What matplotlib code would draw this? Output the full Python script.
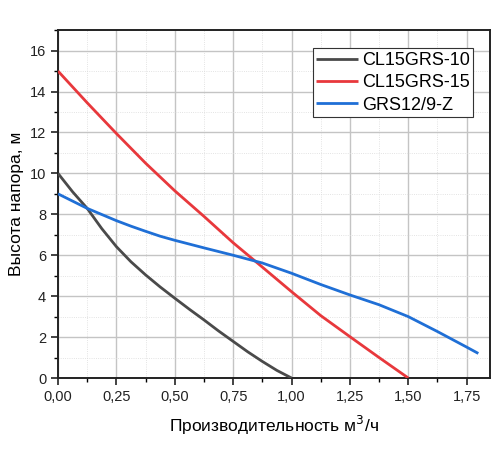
import matplotlib
matplotlib.use("Agg")
import matplotlib.pyplot as plt
from matplotlib.ticker import MultipleLocator, FuncFormatter

plt.rcParams['font.family'] = ['Liberation Sans', 'DejaVu Sans']

x_cl10 = [0.0, 0.0625, 0.125, 0.1875, 0.25, 0.3125, 0.375, 0.4375, 0.5, 0.5625, 0.625, 0.6875, 0.75, 0.8125, 0.875, 0.9375, 1.0]
y_cl10 = [10.0, 9.1, 8.29, 7.3, 6.42, 5.68, 5.04, 4.45, 3.9, 3.36, 2.84, 2.3, 1.79, 1.28, 0.81, 0.37, 0.0]

x_cl15 = [0.0, 0.125, 0.25, 0.375, 0.5, 0.625, 0.75, 0.875, 1.0, 1.125, 1.25, 1.375, 1.5]
y_cl15 = [15.0, 13.45, 11.95, 10.5, 9.15, 7.9, 6.61, 5.42, 4.22, 3.05, 2.02, 1.0, 0.0]

x_grs = [0.0, 0.125, 0.25, 0.3125, 0.375, 0.4375, 0.5, 0.625, 0.75, 0.875, 1.0, 1.125, 1.25, 1.375, 1.5, 1.625, 1.75, 1.8]
y_grs = [9.0, 8.29, 7.69, 7.42, 7.17, 6.93, 6.73, 6.36, 6.0, 5.62, 5.12, 4.57, 4.06, 3.58, 3.0, 2.27, 1.51, 1.2]

series_names = ['CL15GRS-10', 'CL15GRS-15', 'GRS12/9-Z']
series_colors = ['#4a4a4a', '#e8383c', '#1f6fd6']

fig = plt.figure(figsize=(5, 4.5), dpi=100)
ax = fig.add_axes([0.116, 0.16, 0.864, 0.773])

for xs, ys, name, col in zip([x_cl10, x_cl15, x_grs], [y_cl10, y_cl15, y_grs], series_names, series_colors):
    ax.plot(xs, ys, color=col, lw=2.0, label=name, zorder=3, solid_capstyle='butt', solid_joinstyle='round')

ax.set_xlim(0, 1.85)
ax.set_ylim(0, 17)
ax.xaxis.set_major_locator(MultipleLocator(0.25))
ax.xaxis.set_minor_locator(MultipleLocator(0.125))
ax.yaxis.set_major_locator(MultipleLocator(2))
ax.yaxis.set_minor_locator(MultipleLocator(1))
ax.xaxis.set_major_formatter(FuncFormatter(lambda v, p: f"{v:.2f}".replace('.', ',')))

ax.grid(which='major', color='#c4c4c4', lw=1.0, ls='-', zorder=0)
ax.grid(which='minor', color='#dadada', lw=0.6, ls=':', zorder=0)
ax.set_axisbelow(True)

for s in ax.spines.values():
    s.set_linewidth(1.4)
    s.set_color('#222222')
ax.tick_params(which='major', direction='out', length=5, width=1.2, labelsize=10.5, colors='#222222')
ax.tick_params(which='minor', direction='out', length=3, width=1.0)

ax.set_xlabel('Производительность м$^3$/ч', fontsize=12.5, labelpad=7)
ax.set_ylabel('Высота напора, м', fontsize=12.5, labelpad=4)

leg = ax.legend(loc='upper right', bbox_to_anchor=(0.961, 0.948), fontsize=13, frameon=True, fancybox=False,
                edgecolor='#333333', framealpha=1, handlelength=2.3, handletextpad=0.22,
                borderpad=0.2, labelspacing=0.3, borderaxespad=0.0)
leg.get_frame().set_linewidth(0.8)

fig.savefig('out.png', dpi=100)
